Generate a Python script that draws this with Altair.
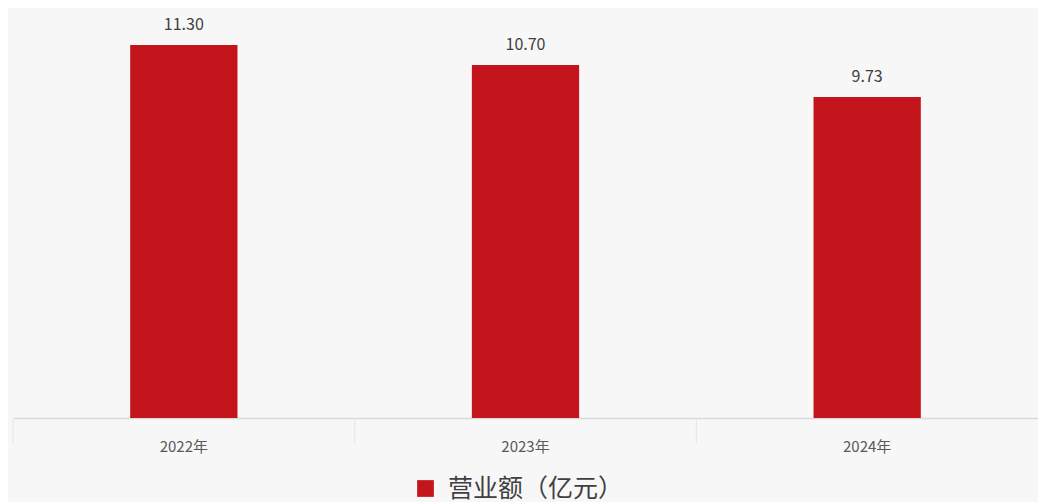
import altair as alt
import pandas as pd

years = ["2022年", "2023年", "2024年"]
revenue = [11.30, 10.70, 9.73]
series = ["营业额（亿元）"] * 3

df = pd.DataFrame({"year": years, "value": revenue, "series": series})

FONT = "Noto Sans CJK SC"
RED = "#c3151b"

x = alt.X("year:N", sort=years, title=None,
          scale=alt.Scale(paddingInner=0.686, paddingOuter=0.343),
          axis=alt.Axis(labelAngle=0, labelFont=FONT, labelFontSize=15, labelColor="#595959",
                        labelPadding=21, domainColor="#d9d9d9", domainWidth=1.5,
                        ticks=False))
y = alt.Y("value:Q", scale=alt.Scale(domain=[0, 12]), axis=None)

bars = alt.Chart(df).mark_bar().encode(
    x=x, y=y,
    color=alt.Color("series:N", scale=alt.Scale(range=[RED]),
                    legend=alt.Legend(title=None, orient="none", legendX=400, legendY=454,
                                      symbolType="square", symbolSize=280, labelFont=FONT,
                                      labelFontSize=25, labelLimit=400, labelOffset=10,
                                      labelColor="#404040", symbolStrokeWidth=0,
                                      padding=0))
)

labels = alt.Chart(df).mark_text(baseline="bottom", dy=-12, font=FONT, fontSize=16,
                                 color="#404040").encode(
    x=alt.X("year:N", sort=years),
    y=y,
    text=alt.Text("value:Q", format=".2f")
)

base = (bars + labels)

ticks = alt.Chart(df).mark_rule(color="#e6e6e6", strokeWidth=1).encode(
    x=alt.X("year:N", sort=years, bandPosition=0,
            scale=alt.Scale(paddingInner=0, paddingOuter=0), axis=None),
    y=alt.value(397),
    y2=alt.value(421),
)

chart = alt.layer(ticks, base).resolve_scale(x="independent").properties(
    width=1025, height=396,
    background="#f7f7f7",
    padding={"left": 4, "top": 9, "right": 0, "bottom": 0}
).configure_view(stroke=None)

chart.save("out.html", embed_options={"renderer": "svg", "actions": False})
